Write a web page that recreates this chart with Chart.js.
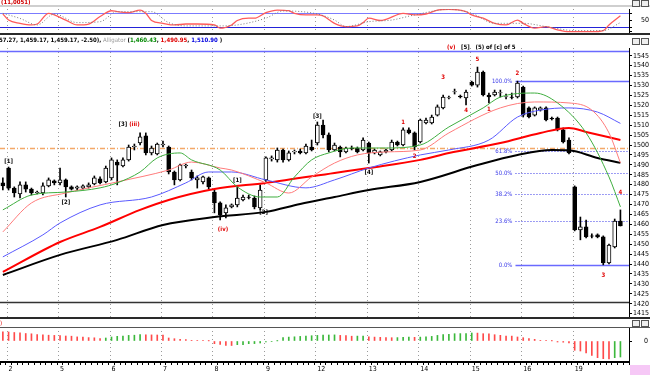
<!DOCTYPE html>
<html>
<head>
<meta charset="utf-8">
<script src="https://cdn.jsdelivr.net/npm/chart.js@4.4.1/dist/chart.umd.min.js"></script>
<style>
html,body{margin:0;padding:0;background:#fff;}
body{position:relative;width:650px;height:375px;overflow:hidden;font-family:"DejaVu Sans Condensed","DejaVu Sans",sans-serif;}
canvas{position:absolute;left:0;}
.abs{position:absolute;white-space:nowrap;}
.hl{position:absolute;left:0;width:650px;}
</style>
</head>
<body>
<canvas id="stoch" width="650" height="35" style="top:0px"></canvas>
<canvas id="main" width="650" height="272" style="top:47px"></canvas>
<canvas id="hist" width="650" height="56" style="top:319px"></canvas>

<div class="hl" style="top:5px;height:2px;background:#cfcfcf"></div>
<div class="abs" style="left:1px;top:-2px;font-size:6px;font-weight:bold;color:#d00000">(11,0051)</div>
<div class="hl" style="top:33px;height:2px;background:#2a2a2a"></div>
<div class="abs" style="left:-1px;top:36px;font-size:6px;font-weight:bold;color:#000">57.27, 1,459.17, 1,459.17, -2.50), <span style="color:#999;font-weight:normal">Alligator</span> (<span style="color:#008800">1,460.43</span>, <span style="color:#e00000">1,490.95</span>, <span style="color:#0000e0">1,510.90</span> )</div>
<div class="abs" style="left:447px;top:43px;font-size:6px;font-weight:bold;color:#000"><span style="color:#e00000">(v)</span>&nbsp;&nbsp;&nbsp;[5]&nbsp;&nbsp;&nbsp;(5) of [c] of 5</div>
<div class="hl" style="top:317px;height:2px;background:#2a2a2a"></div>
<div class="abs" style="left:0px;top:319px;font-size:6px;color:#e00000">)</div>
<div class="hl" style="top:327px;height:1px;background:#555"></div>
<div class="abs" style="left:632px;top:0px;width:6px;height:5px;border:1px solid #555;background:#eee"></div>
<div class="abs" style="left:641px;top:0px;width:6px;height:5px;border:1px solid #555;background:#eee"></div>
<div class="abs" style="left:632px;top:38px;width:6px;height:5px;border:1px solid #555;background:#eee"></div>
<div class="abs" style="left:641px;top:38px;width:6px;height:5px;border:1px solid #555;background:#eee"></div>
<div class="abs" style="left:632px;top:320px;width:6px;height:5px;border:1px solid #555;background:#eee"></div>
<div class="abs" style="left:641px;top:320px;width:6px;height:5px;border:1px solid #555;background:#eee"></div>
<div class="abs" style="left:630px;top:365px;width:20px;height:10px;background:#f6c8f6"></div>

<script>
// ---------- data ----------
const dayLabels = ['2','5','6','7','8','9','12','13','14','15','16','19'];
const firstDayBar = 1;
const barsPerDay = 9;
const slotCount = 110;

const opens  = [1480.9,1488.4,1478.3,1475.3,1479.9,1477.8,1475.8,1475.8,1479.4,1481.9,
                1480.9,1482.4,1478.9,1478.3,1478.3,1478.9,1480.4,1482.9,1481.4,1483.4,
                1491.4,1489.4,1492.5,1499.0,1501.0,1504.6,1496.0,1495.5,1500.0,1499.0,
                1486.4,1482.4,1489.4,1486.4,1482.4,1481.4,1483.4,1476.3,1470.8,1465.8,
                1468.8,1469.8,1472.3,1473.8,1473.3,1468.3,1482.4,1493.0,1492.5,1497.5,
                1492.5,1496.5,1497.0,1496.0,1499.0,1501.0,1510.1,1505.1,1497.5,1499.0,
                1496.5,1498.5,1498.5,1497.5,1501.0,1496.0,1495.0,1496.5,1497.5,1501.5,
                1500.0,1507.6,1506.1,1501.5,1511.1,1511.1,1515.1,1518.7,1523.7,1526.7,
                1524.7,1523.7,1531.7,1530.2,1536.8,1525.2,1525.2,1526.2,1524.2,1524.2,
                1524.2,1529.2,1518.7,1515.1,1517.6,1518.7,1513.6,1513.6,1507.6,1502.5,
                1478.9,1457.2,1458.7,1454.2,1454.7,1453.7,1440.6,1448.6,1461.67];
const highs  = [1483.4,1488.9,1478.9,1481.4,1481.4,1478.3,1476.8,1480.9,1483.4,1482.4,
                1488.4,1482.9,1479.4,1479.4,1479.9,1480.9,1484.4,1483.9,1489.4,1493.5,
                1492.5,1493.5,1500.0,1500.5,1506.1,1506.1,1499.5,1501.0,1502.0,1499.5,
                1486.9,1490.4,1490.4,1487.4,1484.4,1484.4,1483.9,1477.3,1471.3,1469.8,
                1470.3,1479.4,1474.8,1474.8,1474.3,1479.9,1494.0,1494.5,1498.5,1498.0,
                1497.0,1497.5,1498.0,1500.5,1502.5,1511.6,1512.6,1506.1,1501.0,1499.5,
                1499.0,1499.5,1499.0,1503.6,1501.5,1498.0,1497.0,1498.0,1502.5,1502.0,
                1508.6,1508.6,1506.6,1513.1,1513.6,1515.1,1520.2,1525.2,1524.7,1528.2,
                1525.2,1527.7,1532.2,1539.3,1537.3,1526.2,1527.7,1527.7,1525.7,1526.2,
                1532.2,1529.7,1519.2,1519.2,1519.2,1519.2,1514.1,1514.1,1508.6,1503.6,
                1479.4,1463.7,1462.2,1455.2,1455.2,1454.2,1450.1,1462.7,1467.27];
const lows   = [1477.3,1477.3,1473.8,1473.3,1476.3,1474.8,1475.3,1474.8,1478.9,1479.9,
                1479.9,1473.8,1477.3,1477.3,1477.8,1478.3,1479.9,1480.4,1480.9,1482.4,
                1479.9,1488.9,1491.9,1497.5,1500.0,1495.0,1495.0,1495.0,1499.0,1485.4,
                1479.9,1481.9,1488.4,1482.4,1478.3,1480.4,1477.8,1465.8,1462.2,1463.2,
                1468.3,1468.8,1471.8,1472.8,1467.8,1467.3,1481.6,1491.9,1491.4,1491.4,
                1491.9,1495.5,1495.5,1495.5,1497.0,1500.0,1503.6,1496.5,1497.0,1494.0,
                1496.0,1497.5,1496.0,1497.0,1490.9,1495.5,1494.5,1496.0,1497.0,1499.5,
                1499.5,1505.6,1497.5,1501.0,1510.6,1510.6,1514.6,1518.2,1523.2,1525.7,
                1523.7,1520.2,1529.7,1529.2,1524.7,1521.2,1524.7,1524.2,1523.2,1523.2,
                1523.7,1514.1,1513.6,1514.6,1517.1,1512.1,1512.6,1507.1,1501.0,1495.5,
                1456.7,1452.2,1453.2,1453.2,1453.2,1439.6,1440.1,1448.1,1459.17];
const closes = [1479.4,1478.3,1475.8,1479.9,1477.8,1475.8,1476.3,1479.4,1482.4,1480.9,
                1482.4,1478.9,1477.8,1478.9,1479.4,1479.9,1483.4,1480.9,1488.4,1492.5,
                1489.9,1492.5,1499.0,1499.5,1504.1,1496.0,1498.5,1500.5,1500.5,1486.4,
                1482.4,1489.9,1489.9,1483.4,1483.4,1483.9,1478.9,1470.8,1464.7,1468.3,
                1469.8,1473.3,1473.8,1473.6,1468.8,1477.3,1493.5,1493.5,1497.5,1492.5,
                1496.0,1496.8,1496.0,1499.5,1497.5,1510.1,1505.1,1497.5,1500.0,1496.5,
                1498.5,1498.2,1496.5,1502.5,1496.0,1497.5,1496.5,1497.5,1501.5,1500.0,
                1507.6,1506.1,1499.0,1512.6,1512.6,1514.1,1519.2,1524.2,1523.9,1526.9,
                1524.2,1526.7,1530.2,1536.8,1525.2,1524.2,1526.7,1526.4,1524.4,1524.0,
                1531.2,1515.1,1514.1,1518.7,1518.7,1512.6,1513.1,1507.6,1501.5,1496.0,
                1457.2,1458.7,1453.7,1454.0,1453.7,1440.6,1449.6,1461.67,1459.17];

// moving averages: [bar index, price]
const blackMA = [[0,1434.5],[10,1444.6],[20,1452.2],[28,1459.7],[37,1463.7],[46,1466.3],[52,1470.3],[58,1473.8],[64,1477.3],[73,1481.4],[83,1489.9],[90,1495.0],[96,1497.5],[99,1497.3],[104,1493.5],[108,1491.0]];
const redMA   = [[0,1436.0],[10,1451.1],[17,1458.7],[24,1467.3],[29,1472.3],[37,1477.8],[46,1480.9],[58,1485.9],[64,1488.4],[73,1492.5],[78,1496.0],[87,1501.0],[94,1506.1],[99,1508.6],[102,1506.6],[108,1502.5]];
const jaw     = [[0,1443.6],[7,1454.7],[10,1460.7],[17,1469.8],[26,1473.8],[32,1480.9],[36,1486.4],[40,1486.4],[46,1482.4],[53,1478.4],[58,1482.4],[64,1488.4],[73,1495.0],[78,1497.5],[85,1502.5],[90,1514.1],[94,1517.6],[99,1518.7],[104,1516.6],[108,1510.9]];
const teeth   = [[0,1456.2],[5,1470.8],[11,1475.8],[20,1481.4],[29,1487.4],[33,1491.4],[38,1488.4],[40,1487.4],[46,1480.9],[50,1475.8],[54,1483.9],[58,1490.9],[62,1495.0],[67,1496.5],[73,1497.5],[78,1506.1],[87,1518.7],[93,1521.7],[99,1521.2],[103,1517.6],[106,1506.1],[108,1491.0]];
const lips    = [[0,1467.3],[5,1474.8],[11,1476.3],[17,1478.4],[20,1480.9],[24,1486.4],[27,1493.5],[31,1496.0],[33,1492.5],[38,1487.4],[41,1478.9],[45,1473.8],[48,1473.8],[51,1483.9],[54,1492.5],[57,1496.0],[61,1498.5],[67,1498.5],[73,1500.0],[78,1509.1],[84,1518.7],[87,1524.2],[93,1526.2],[97,1521.2],[102,1506.1],[106,1483.9],[108,1468.8]];

// stochastic
const stochK = [[0,77],[1,51],[3,37],[5,30],[6,34],[8,80],[9,73],[11,51],[13,30],[15,34],[17,66],[19,91],[20,87],[22,83],[24,94],[25,80],[26,49],[28,37],[30,30],[32,34],[34,34],[37,30],[38,16],[40,30],[41,49],[43,59],[44,59],[46,83],[48,94],[50,91],[51,80],[53,73],[55,73],[56,69],[58,37],[60,23],[62,26],[63,40],[64,59],[66,49],[67,54],[70,80],[72,73],[74,77],[76,94],[78,97],[81,87],[82,73],[84,59],[86,37],[88,30],[90,51],[91,37],[93,16],[95,23],[97,9],[99,1],[103,1],[105,6],[106,30],[108,69]];
const stochD = [[0,80],[3,58],[6,30],[9,77],[13,40],[17,44],[20,87],[26,87],[29,40],[32,26],[38,26],[41,30],[46,59],[49,90],[55,77],[58,51],[60,23],[64,44],[68,51],[72,73],[78,97],[82,80],[86,37],[91,37],[95,23],[100,6],[105,6],[108,40]];
const stochLevels = [80, 20];
const stochTicks = [0, 20, 50, 80];
const stochTickLabels = ['', '', '50', ''];

// oscillator histogram
const osc = [9.2,9.0,8.5,8.2,7.5,7.2,6.5,6.2,5.8,5.6,5.4,5.0,4.8,4.1,3.9,3.4,3.2,2.3,3.0,4.0,
             4.7,5.0,5.6,5.8,6.3,6.2,6.1,6.0,5.9,3.0,2.3,1.7,1.3,0.7,0.6,0.3,0.1,-2.7,-3.3,-4.3,
             -4.5,-3.7,-3.6,-2.7,-2.6,-2.0,-1.0,-0.4,0.1,3.3,3.9,4.2,4.6,5.0,5.3,5.6,5.8,6.0,6.1,5.6,
             5.4,4.8,4.9,5.0,4.2,3.9,3.7,3.5,3.3,3.4,3.6,4.0,3.7,3.9,4.1,4.6,5.6,6.3,6.6,7.3,
             7.4,7.5,8.0,7.9,7.3,7.2,6.3,5.7,5.0,4.9,4.0,3.3,2.3,1.7,0.7,0.3,0.1,-1.0,-1.2,-2.0,
             -9.3,-10.0,-12.0,-14.3,-16.7,-17.7,-17.8,-16.7,-16.0];

const priceTicks = [1545,1540,1535,1530,1525,1520,1515,1510,1505,1500,1495,1490,1485,1480,1475,1470,1465,1460,1455,1450,1445,1440,1435,1430,1425,1420,1415];
const oscTicks = [0];

// horizontal reference lines (prices)
const topLine = 1547.3;
const pivotLine = 1498.4;
const baseLine = 1420.7;

// Fibonacci retracement
const fibLow = 1439.6, fibHigh = 1532.5, fibStartBar = 90;
const fibLevels = [0, 23.6, 38.2, 50, 61.8, 100];

// wave labels [bar, price, text]
const waveBlack = [[1,1491.5,'[1]'],[11,1471.3,'[2]'],[21,1510.3,'[3]'],[41,1482.0,'[1]'],[45.6,1465.8,'[2]'],[55,1514.6,'[3]'],[64,1486.3,'[4]']];
const waveRed   = [[23,1510.3,'(iii)'],[38.5,1457.5,'(iv)'],[70,1511.6,'1'],[72,1494.4,'2'],[77,1534.0,'3'],[81,1517.3,'4'],[83,1543.0,'5'],[85,1518.0,'1'],[90,1536.0,'2'],[105,1434.3,'3'],[108,1476.3,'4']];

// ---------- build ----------
const labels = Array.from({length: slotCount}, (_, i) =>
  (i >= firstDayBar && (i - firstDayBar) % barsPerDay === 0 && dayLabels[(i - firstDayBar) / barsPerDay]) || '');
const dayBars = dayLabels.map((_, k) => firstDayBar + k * barsPerDay);
function sparse(knots){ const a = new Array(slotCount).fill(null); knots.forEach(([i, v]) => { a[i] = v; }); return a; }

const FONT = '"DejaVu Sans Condensed","DejaVu Sans",sans-serif';
Chart.defaults.font.family = FONT;
Chart.defaults.color = '#000';

function fixedY(width, ticks, pad, labelsFor){
  return {
    position: 'right',
    afterFit: s => { s.width = width; s.paddingTop = 0; s.paddingBottom = 0; s.paddingLeft = 0; s.paddingRight = 0; },
    afterBuildTicks: s => { s.ticks = ticks.map(v => ({value: v})); },
    ticks: { font: {size: 7}, padding: pad, color: '#000', autoSkip: false,
             callback: (v, i) => labelsFor ? labelsFor[i] : String(v) },
    grid: { drawOnChartArea: false, tickLength: 3, color: '#000' },
    border: { display: true, color: '#000', width: 1 }
  };
}

function dayLinesDraw(chart){
  const {ctx, chartArea: a, scales: {x}} = chart;
  ctx.save();
  ctx.strokeStyle = '#9a9a9a'; ctx.lineWidth = 1; ctx.setLineDash([1, 3]);
  dayBars.forEach(i => {
    const X = Math.round(x.getPixelForValue(i)) - 1.5;
    ctx.beginPath(); ctx.moveTo(X, a.top); ctx.lineTo(X, a.bottom); ctx.stroke();
  });
  ctx.restore();
}

function hLine(chart, value, color, width, dash, x0){
  const {ctx, chartArea: a, scales: {y}} = chart;
  const Y = Math.round(y.getPixelForValue(value)) + 0.5;
  ctx.save();
  ctx.strokeStyle = color; ctx.lineWidth = width; ctx.setLineDash(dash || []);
  ctx.beginPath(); ctx.moveTo(x0 == null ? a.left : x0, Y); ctx.lineTo(a.right, Y); ctx.stroke();
  ctx.restore();
  return Y;
}

const common = {
  responsive: false, animation: false, devicePixelRatio: 1,
  plugins: { legend: {display: false}, tooltip: {enabled: false} },
  events: []
};

// ---------- stochastic panel ----------
new Chart(document.getElementById('stoch'), {
  type: 'line',
  data: { labels, datasets: [
    { data: sparse(stochD), borderColor: '#7a7a7a', borderWidth: 1, borderDash: [1, 2], pointRadius: 0, spanGaps: true, cubicInterpolationMode: 'monotone' },
    { data: sparse(stochK), borderColor: '#ff5a5a', borderWidth: 1.3, pointRadius: 0, spanGaps: true, cubicInterpolationMode: 'monotone' }
  ]},
  options: Object.assign({}, common, {
    layout: { autoPadding: false, padding: {top: 9, bottom: 2, left: 0, right: 0} },
    scales: {
      x: { type: 'category', offset: true, display: false },
      y: Object.assign(fixedY(21, stochTicks, 9, stochTickLabels), { min: -4.5, max: 98.4 })
    }
  }),
  plugins: [{ id: 'stDeco', beforeDatasetsDraw(chart){
    dayLinesDraw(chart);
    hLine(chart, stochLevels[0], '#7b7bff', 1.2);
    hLine(chart, stochLevels[1], '#2323d8', 1.2);
  }}]
});

// ---------- price panel ----------
new Chart(document.getElementById('main'), {
  type: 'bar',
  data: { labels, datasets: [
    { type: 'line', data: sparse(lips),    borderColor: '#3fae3f', borderWidth: 1,   pointRadius: 0, spanGaps: true, cubicInterpolationMode: 'monotone', order: 0 },
    { type: 'line', data: sparse(teeth),   borderColor: '#ff7b7b', borderWidth: 1,   pointRadius: 0, spanGaps: true, cubicInterpolationMode: 'monotone', order: 0 },
    { type: 'line', data: sparse(jaw),     borderColor: '#5a5aff', borderWidth: 1,   pointRadius: 0, spanGaps: true, cubicInterpolationMode: 'monotone', order: 0 },
    { type: 'line', data: sparse(redMA),   borderColor: '#ff0000', borderWidth: 2,   pointRadius: 0, spanGaps: true, cubicInterpolationMode: 'monotone', order: 0 },
    { type: 'line', data: sparse(blackMA), borderColor: '#000000', borderWidth: 2,   pointRadius: 0, spanGaps: true, cubicInterpolationMode: 'monotone', order: 0 },
    { data: opens.map((o, i) => [o, closes[i]]),
      backgroundColor: opens.map((o, i) => closes[i] >= o ? '#ffffff' : '#000000'),
      borderColor: '#000', borderWidth: 1, borderSkipped: false, barThickness: 4, grouped: false, order: 1 },
    { data: lows.map((l, i) => [l, highs[i]]), backgroundColor: '#000', borderWidth: 0, barThickness: 1, grouped: false, order: 2 }
  ]},
  options: Object.assign({}, common, {
    layout: { autoPadding: false, padding: {top: 1, bottom: 1, left: 0, right: 0} },
    scales: {
      x: { type: 'category', offset: true, display: false },
      y: Object.assign(fixedY(21, priceTicks, 1), { min: 1412.8, max: 1548.9 })
    }
  }),
  plugins: [{ id: 'mainDeco',
    beforeDatasetsDraw(chart){
      const {ctx, scales: {x}} = chart;
      dayLinesDraw(chart);
      hLine(chart, topLine, '#6a6aff', 1.5);
      hLine(chart, pivotLine, '#f4a868', 1.3, [5, 2, 1, 2]);
      hLine(chart, baseLine, '#333333', 1.5);
      const x0 = x.getPixelForValue(fibStartBar) - 2;
      ctx.save();
      ctx.font = '6px ' + FONT; ctx.fillStyle = '#3a3ae8'; ctx.textAlign = 'right'; ctx.textBaseline = 'middle';
      fibLevels.forEach(l => {
        const v = fibLow + (fibHigh - fibLow) * l / 100;
        const solid = (l === 0 || l === 100);
        const Y = hLine(chart, v, solid ? '#6a6aff' : '#3a3ae8', solid ? 1.3 : 1, solid ? [] : [1, 2], x0);
        ctx.fillText(l.toFixed(1) + '%', x0 - 3, Y);
      });
      ctx.restore();
    },
    afterDatasetsDraw(chart){
      const {ctx, scales: {x, y}} = chart;
      ctx.save();
      ctx.font = 'bold 6px ' + FONT; ctx.textAlign = 'center'; ctx.textBaseline = 'middle';
      ctx.fillStyle = '#000';
      waveBlack.forEach(([i, p, t]) => ctx.fillText(t, x.getPixelForValue(i), y.getPixelForValue(p)));
      ctx.fillStyle = '#e00000';
      waveRed.forEach(([i, p, t]) => ctx.fillText(t, x.getPixelForValue(i), y.getPixelForValue(p)));
      ctx.restore();
    }
  }]
});

// ---------- oscillator panel ----------
new Chart(document.getElementById('hist'), {
  type: 'bar',
  data: { labels, datasets: [
    { data: osc, backgroundColor: osc.map((v, i) => (i > 0 && v >= osc[i - 1]) ? '#3cb83c' : '#ff4a4a'),
      barThickness: 1, grouped: false, borderWidth: 0 }
  ]},
  options: Object.assign({}, common, {
    layout: { autoPadding: false, padding: {top: 8, bottom: 0, left: 0, right: 0} },
    scales: {
      x: { type: 'category', offset: true,
           afterFit: s => { s.height = 13; s.paddingLeft = 0; s.paddingRight = 0; s.paddingTop = 0; s.paddingBottom = 0; },
           ticks: { autoSkip: false, maxRotation: 0, minRotation: 0, align: 'start', font: {size: 7}, padding: 0, color: '#000',
                    callback: (v, i) => labels[i] },
           grid: { drawOnChartArea: false, tickLength: 3, color: '#000' },
           border: { display: true, color: '#000', width: 2 } },
      y: Object.assign(fixedY(21, oscTicks, 12), { min: -21, max: 14 })
    }
  }),
  plugins: [{ id: 'hDeco', beforeDatasetsDraw(chart){ dayLinesDraw(chart); } }]
});
</script>
</body>
</html>
